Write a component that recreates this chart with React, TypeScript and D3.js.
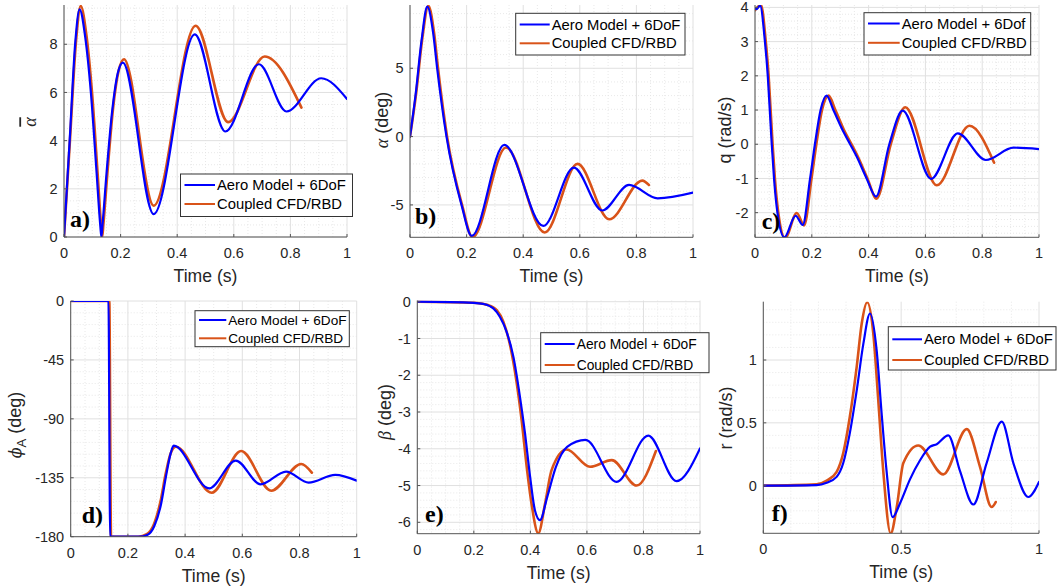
import React from "react";
import * as d3 from "d3";

type P = [number, number];

// ---------- tick values ----------
const timeTicks = [0, 0.2, 0.4, 0.6, 0.8, 1];
const timeTicksF = [0, 0.5, 1];
const alphaBarTicks = [0, 2, 4, 6, 8];
const alphaTicks = [-5, 0, 5];
const qTicks = [-2, -1, 0, 1, 2, 3, 4];
const phiTicks = [-180, -135, -90, -45, 0];
const betaTicks = [-6, -5, -4, -3, -2, -1, 0];
const rTicks = [0, 0.5, 1];

const seriesNames = ["Aero Model + 6DoF", "Coupled CFD/RBD"];
const seriesNamesC = ["Aero Model + 6Dof", "Coupled CFD/RBD"];

// ---------- data: [time (s), value] ----------
const alphaBarAero: P[] = [[0,0],[0.02,4.0],[0.04,8.1],[0.055,9.45],[0.075,8.3],[0.095,6.0],[0.115,2.7],[0.128,0.5],[0.132,0],[0.136,0.5],[0.15,2.6],[0.17,5.2],[0.19,6.8],[0.208,7.24],[0.317,0.95],[0.462,8.41],[0.57,4.38],[0.689,7.17],[0.786,5.21],[0.909,6.59],[1,5.73]];
const alphaBarCFD: P[] = [[0,0],[0.021,4.0],[0.043,8.2],[0.059,9.59],[0.079,8.4],[0.099,6.0],[0.119,2.6],[0.131,0.5],[0.135,0],[0.139,0.5],[0.153,2.6],[0.173,5.3],[0.193,6.9],[0.212,7.38],[0.317,1.3],[0.465,8.77],[0.58,4.77],[0.709,7.49],[0.839,5.37]];

const alphaAero: P[] = [[0,0],[0.02,3.1],[0.041,7.07],[0.061,9.51],[0.082,7.56],[0.096,5],[0.129,0],[0.182,-5],[0.218,-7.27],[0.333,-0.61],[0.471,-6.54],[0.579,-2.27],[0.679,-5.41],[0.774,-3.54],[0.875,-4.52],[1,-4.1]];
const alphaCFD: P[] = [[0,0],[0.022,3.2],[0.043,7.1],[0.065,9.56],[0.085,7.6],[0.099,5],[0.131,0],[0.184,-5],[0.221,-7.37],[0.339,-0.8],[0.476,-7.02],[0.592,-2.0],[0.704,-6.05],[0.821,-3.22],[0.844,-3.54]];

const qAero: P[] = [[0,3.97],[0.005,3.95],[0.018,4.05],[0.035,3],[0.045,2],[0.052,1],[0.059,0],[0.067,-1],[0.079,-2],[0.103,-2.72],[0.143,-2.09],[0.168,-2.36],[0.194,-1],[0.211,0],[0.231,1],[0.252,1.42],[0.276,1.0],[0.311,0.37],[0.335,0],[0.358,-0.36],[0.393,-1],[0.426,-1.53],[0.473,0],[0.52,0.98],[0.62,-1.01],[0.714,0.32],[0.813,-0.46],[0.91,-0.1],[1,-0.14]];
const qCFD: P[] = [[0,3.92],[0.021,4.07],[0.038,3],[0.048,2],[0.055,1],[0.062,0],[0.07,-1],[0.082,-2],[0.106,-2.74],[0.147,-2.01],[0.173,-2.37],[0.199,-1],[0.216,0],[0.236,1],[0.259,1.42],[0.283,1.0],[0.316,0.37],[0.34,0],[0.362,-0.36],[0.396,-1],[0.428,-1.59],[0.478,0],[0.529,1.08],[0.64,-1.2],[0.755,0.54],[0.842,-0.54]];

const phiAero: P[] = [[0,0],[0.132,0],[0.138,-180],[0.24,-180],[0.269,-178.5],[0.292,-172],[0.316,-155],[0.333,-134],[0.35,-116],[0.36,-110.5],[0.484,-143.1],[0.577,-121.9],[0.664,-140],[0.753,-130.3],[0.832,-138.7],[0.925,-132.8],[1,-137.2]];
const phiCFD: P[] = [[0,0],[0.135,0],[0.141,-180],[0.236,-180],[0.266,-178],[0.29,-171],[0.314,-153],[0.332,-132],[0.35,-116],[0.368,-111.3],[0.493,-146.4],[0.596,-114.6],[0.701,-144.9],[0.806,-124.5],[0.843,-131.1]];

const betaAero: P[] = [[0,0],[0.2,-0.03],[0.233,-0.06],[0.269,-0.18],[0.292,-0.41],[0.316,-0.82],[0.34,-1.5],[0.363,-2.58],[0.381,-3.58],[0.399,-4.76],[0.416,-5.67],[0.434,-5.94],[0.46,-5.3],[0.49,-4.5],[0.53,-3.95],[0.595,-3.76],[0.705,-4.9],[0.817,-3.64],[0.917,-4.88],[1,-3.99]];
const betaCFD: P[] = [[0,0],[0.2,-0.03],[0.25,-0.09],[0.281,-0.23],[0.304,-0.54],[0.328,-1.18],[0.351,-2.18],[0.369,-3.22],[0.387,-4.49],[0.404,-5.49],[0.428,-6.3],[0.452,-5.49],[0.475,-4.58],[0.528,-4.02],[0.611,-4.49],[0.688,-4.31],[0.776,-5.0],[0.844,-4.06]];

const rAero: P[] = [[0,0],[0.193,0.005],[0.23,0.024],[0.266,0.07],[0.29,0.18],[0.314,0.42],[0.339,0.76],[0.363,1.13],[0.387,1.37],[0.411,1.08],[0.429,0.58],[0.447,0.12],[0.469,-0.25],[0.496,-0.14],[0.532,0.05],[0.568,0.2],[0.605,0.31],[0.629,0.33],[0.671,0.4],[0.713,0.12],[0.762,-0.15],[0.81,0.18],[0.865,0.51],[0.907,0.18],[0.961,-0.09],[1,0.03]];
const rCFD: P[] = [[0,0],[0.193,0.01],[0.23,0.04],[0.266,0.11],[0.29,0.26],[0.314,0.55],[0.339,0.95],[0.357,1.29],[0.377,1.46],[0.399,1.21],[0.417,0.68],[0.435,0.12],[0.462,-0.38],[0.484,-0.17],[0.508,0.18],[0.562,0.32],[0.653,0.09],[0.738,0.45],[0.786,0.15],[0.828,-0.17],[0.843,-0.13]];

const BLUE = "#0000ff";
const ORANGE = "#d95319";
const INK = "#262626";
const SANS = "'Liberation Sans', Arial, Helvetica, sans-serif";
const SERIF = "'Liberation Serif', 'Times New Roman', serif";
const GREEK = "'DejaVu Serif', 'Liberation Serif', serif";

type Cfg = {
  id: string;
  left: number; right: number; top: number; bottom: number;
  yDomain: [number, number];
  xTicks: number[]; yTicks: number[];
  xMinor: number; yMinor: number;
  aero: P[]; cfd: P[];
  names: string[];
  legend: { x0: number; x1: number; y0: number; y1: number; ly: [number, number]; tx: number; fs: number };
  tag: string; tagX: number; tagY: number;
  ylab: { x: number; y: number; node: React.ReactNode };
};

const yLabA = (
  <tspan fontFamily={SERIF} fontStyle="italic" textDecoration="overline">α</tspan>
);
const yLabB = (
  <>
    <tspan fontFamily={SERIF} fontStyle="italic">α</tspan>
    <tspan fontFamily={SANS}> (deg)</tspan>
  </>
);
const yLabC = <tspan fontFamily={SANS}>q (rad/s)</tspan>;
const yLabD = (
  <>
    <tspan fontFamily={GREEK} fontStyle="italic" fontSize={16}>ϕ</tspan>
    <tspan fontFamily={SANS} fontSize={13} dy={5}>A</tspan>
    <tspan fontFamily={SANS} dy={-5}> (deg)</tspan>
  </>
);
const yLabE = (
  <>
    <tspan fontFamily={SERIF} fontStyle="italic">β</tspan>
    <tspan fontFamily={SANS}> (deg)</tspan>
  </>
);
const yLabF = <tspan fontFamily={SANS}>r (rad/s)</tspan>;

const panels: Cfg[] = [
  {
    id: "a", left: 64, right: 347, top: 5, bottom: 237, yDomain: [0, 9.63],
    xTicks: timeTicks, yTicks: alphaBarTicks, xMinor: 0.05, yMinor: 0.5,
    aero: alphaBarAero, cfd: alphaBarCFD, names: seriesNames,
    legend: { x0: 180.5, x1: 352.5, y0: 174, y1: 216.5, ly: [185, 204], tx: 217, fs: 14.8 },
    tag: "a)", tagX: 70, tagY: 227, ylab: { x: 30, y: 122, node: yLabA },
  },
  {
    id: "b", left: 410, right: 693, top: 5, bottom: 237.3, yDomain: [-7.37, 9.63],
    xTicks: timeTicks, yTicks: alphaTicks, xMinor: 0.05, yMinor: 1,
    aero: alphaAero, cfd: alphaCFD, names: seriesNames,
    legend: { x0: 515.7, x1: 685, y0: 13.3, y1: 55, ly: [24.5, 43.3], tx: 551.7, fs: 14.8 },
    tag: "b)", tagX: 415, tagY: 224, ylab: { x: 382, y: 120, node: yLabB },
  },
  {
    id: "c", left: 755, right: 1039, top: 5, bottom: 237.3, yDomain: [-2.72, 4.07],
    xTicks: timeTicks, yTicks: qTicks, xMinor: 0.05, yMinor: 0.2,
    aero: qAero, cfd: qCFD, names: seriesNamesC,
    legend: { x0: 864, x1: 1030.7, y0: 12.7, y1: 55, ly: [23.5, 42.8], tx: 901.7, fs: 14.8 },
    tag: "c)", tagX: 761.7, tagY: 229, ylab: { x: 725, y: 130, node: yLabC },
  },
  {
    id: "d", left: 70.7, right: 356.7, top: 301, bottom: 536.7, yDomain: [-180, 0],
    xTicks: timeTicks, yTicks: phiTicks, xMinor: 0.05, yMinor: 9,
    aero: phiAero, cfd: phiCFD, names: seriesNames,
    legend: { x0: 195, x1: 349.3, y0: 310.7, y1: 346.7, ly: [320, 338.3], tx: 228.3, fs: 13.6 },
    tag: "d)", tagX: 81.7, tagY: 523, ylab: { x: 15, y: 425, node: yLabD },
  },
  {
    id: "e", left: 417.3, right: 700, top: 300.5, bottom: 533.7, yDomain: [-6.31, 0.033],
    xTicks: timeTicks, yTicks: betaTicks, xMinor: 0.05, yMinor: 0.2,
    aero: betaAero, cfd: betaCFD, names: seriesNames,
    legend: { x0: 540.7, x1: 709, y0: 332.7, y1: 372.7, ly: [344, 365], tx: 576.7, fs: 13.8 },
    tag: "e)", tagX: 425, tagY: 522, ylab: { x: 385, y: 412, node: yLabE },
  },
  {
    id: "f", left: 763.3, right: 1039, top: 301.7, bottom: 533.3, yDomain: [-0.379, 1.464],
    xTicks: timeTicksF, yTicks: rTicks, xMinor: 0.1, yMinor: 0.1,
    aero: rAero, cfd: rCFD, names: seriesNames,
    legend: { x0: 888.3, x1: 1056, y0: 326.7, y1: 370, ly: [339.3, 360], tx: 924, fs: 14.8 },
    tag: "f)", tagX: 771.7, tagY: 521, ylab: { x: 726, y: 418, node: yLabF },
  },
];

function minorValues(lo: number, hi: number, step: number, majors: number[]) {
  const out: number[] = [];
  const start = Math.ceil(lo / step - 1e-9);
  const end = Math.floor(hi / step + 1e-9);
  for (let k = start; k <= end; k++) {
    const v = +(k * step).toFixed(6);
    if (!majors.some((m) => Math.abs(m - v) < 1e-6)) out.push(v);
  }
  return out;
}

function fmt(v: number) {
  return String(+v.toFixed(3));
}

function Panel({ c }: { c: Cfg }) {
  const x = d3.scaleLinear().domain([0, 1]).range([c.left, c.right]);
  const y = d3.scaleLinear().domain(c.yDomain).range([c.bottom, c.top]);
  const line = d3
    .line<P>()
    .x((d) => x(d[0]))
    .y((d) => y(d[1]))
    .curve(d3.curveMonotoneX);
  const xMin = minorValues(0, 1, c.xMinor, c.xTicks);
  const yMin = minorValues(c.yDomain[0], c.yDomain[1], c.yMinor, c.yTicks);
  const clipId = `clip-${c.id}`;
  const L = c.legend;
  return (
    <g>
      <defs>
        <clipPath id={clipId}>
          <rect x={c.left} y={c.top} width={c.right - c.left} height={c.bottom - c.top} />
        </clipPath>
      </defs>
      <rect x={c.left} y={c.top} width={c.right - c.left} height={c.bottom - c.top} fill="#fff" />
      <g stroke="#e2e2e2" strokeWidth={0.8} strokeDasharray="1,2">
        {xMin.map((v) => (
          <line key={"xm" + v} x1={x(v)} x2={x(v)} y1={c.top} y2={c.bottom} />
        ))}
        {yMin.map((v) => (
          <line key={"ym" + v} x1={c.left} x2={c.right} y1={y(v)} y2={y(v)} />
        ))}
      </g>
      <g stroke="#e0e0e0" strokeWidth={1}>
        {c.xTicks.map((v) => (
          <line key={"xg" + v} x1={x(v)} x2={x(v)} y1={c.top} y2={c.bottom} />
        ))}
        {c.yTicks.map((v) => (
          <line key={"yg" + v} x1={c.left} x2={c.right} y1={y(v)} y2={y(v)} />
        ))}
      </g>
      <g clipPath={`url(#${clipId})`} fill="none" strokeLinejoin="round" strokeLinecap="round">
        <path d={line(c.cfd) || ""} stroke={ORANGE} strokeWidth={2.6} />
        <path d={line(c.aero) || ""} stroke={BLUE} strokeWidth={2.2} />
      </g>
      <g stroke="#555" strokeWidth={1}>
        <line x1={c.left} x2={c.left} y1={c.top} y2={c.bottom} />
        <line x1={c.left} x2={c.right} y1={c.bottom} y2={c.bottom} />
        {c.xTicks.map((v) => (
          <line key={"xt" + v} x1={x(v)} x2={x(v)} y1={c.bottom} y2={c.bottom - 3} />
        ))}
        {c.yTicks.map((v) => (
          <line key={"yt" + v} x1={c.left} x2={c.left + 3} y1={y(v)} y2={y(v)} />
        ))}
      </g>
      <g fontFamily={SANS} fontSize={14.5} fill={INK}>
        {c.xTicks.map((v) => (
          <text key={"xl" + v} x={x(v)} y={c.bottom + 21} textAnchor="middle">
            {fmt(v)}
          </text>
        ))}
        {c.yTicks.map((v) => (
          <text key={"yl" + v} x={c.left - 6.5} y={y(v)} dy="0.35em" textAnchor="end">
            {fmt(v)}
          </text>
        ))}
      </g>
      <text
        x={(c.left + c.right) / 2}
        y={c.bottom + 45}
        textAnchor="middle"
        fontFamily={SANS}
        fontSize={17.6}
        fill={INK}
      >
        Time (s)
      </text>
      <text
        transform={`translate(${c.ylab.x},${c.ylab.y}) rotate(-90)`}
        textAnchor="middle"
        dy="0.35em"
        fontSize={18}
        fill={INK}
      >
        {c.ylab.node}
      </text>
      <rect x={L.x0} y={L.y0} width={L.x1 - L.x0} height={L.y1 - L.y0} fill="#fff" stroke="#333" strokeWidth={1} />
      {[BLUE, ORANGE].map((col, i) => (
        <g key={col}>
          <line x1={L.x0 + 4} x2={L.tx - 2} y1={L.ly[i]} y2={L.ly[i]} stroke={col} strokeWidth={2} />
          <text x={L.tx} y={L.ly[i]} dy="0.35em" fontFamily={SANS} fontSize={L.fs} fill="#000">
            {c.names[i]}
          </text>
        </g>
      ))}
      <text x={c.tagX} y={c.tagY} fontFamily={SERIF} fontWeight="bold" fontSize={24} fill="#000">
        {c.tag}
      </text>
    </g>
  );
}

export default function App() {
  return (
    <svg
      width={1057}
      height={588}
      viewBox="0 0 1057 588"
      style={{ position: "absolute", left: 0, top: 0, background: "#fff" }}
    >
      <rect x={0} y={0} width={1057} height={588} fill="#fff" />
      {panels.map((c) => (
        <Panel key={c.id} c={c} />
      ))}
    </svg>
  );
}
